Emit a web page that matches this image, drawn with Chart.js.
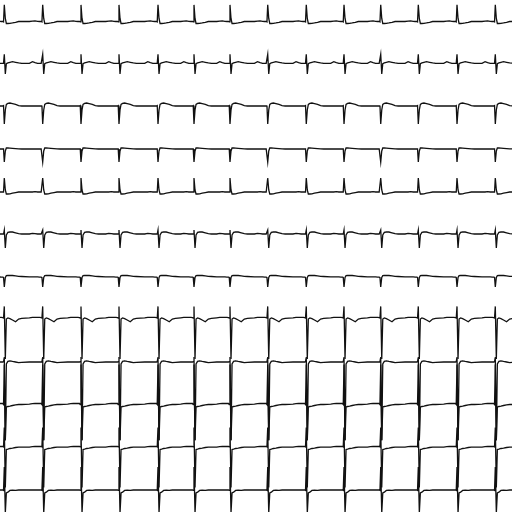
<!DOCTYPE html>
<html>
<head>
<meta charset="utf-8">
<script src="https://cdn.jsdelivr.net/npm/chart.js@4"></script>
<style>
html,body{margin:0;padding:0;background:#fff;}
#wrap{width:512px;height:512px;position:relative;}
</style>
</head>
<body>
<div id="wrap"><canvas id="c" width="512" height="512"></canvas></div>
<script>
// R-peak times (ms)
const beatTimes = [84, 834, 1582, 2324, 3086, 3789, 4492, 5229, 5982, 6719, 7436, 8170, 8926, 9674];
// sample offsets (ms) relative to each R peak
const beatOffsets = [-260, -200, -150, -100, -60, -30, -15, 0, 20, 40, 70, 110, 160, 220, 280, 340];
// lead names (top to bottom)
const leadNames = ["I", "II", "III", "aVR", "aVL", "aVF", "V1", "V2", "V3", "V4", "V5", "V6"];
// beat shapes per lead (mV)
const leadI   = [0, 0.02, 0.03, 0.01, 0, 0, -0.02, 0.83, 0.15, -0.1, -0.1, -0.09, -0.07, -0.04, 0, 0];
const leadII  = [0, 0.08, 0.03, 0, 0, 0, 0, 0.45, -0.53, -0.02, 0.02, 0.05, 0.08, 0.05, 0.02, 0];
const leadIII = [0, 0, 0, 0, 0, 0, 0.02, -0.9, -0.2, 0.08, 0.13, 0.15, 0.12, 0.08, 0.02, 0];
const leadAVR = [0, 0, 0, 0, 0, 0, 0, -0.65, -0.1, 0.05, 0.05, 0.04, 0.03, 0.02, 0.01, 0];
const leadAVL = [0, 0, 0.02, 0, 0, 0, 0, 0.7, 0.1, -0.1, -0.1, -0.09, -0.06, -0.03, 0, 0];
const leadAVF = [0, 0.03, 0.02, 0, 0, 0, 0, 0.2, -0.7, -0.05, 0.08, 0.1, 0.1, 0.06, 0.02, 0];
const leadV1  = [-0.02, -0.02, -0.02, -0.02, -0.03, -0.03, -0.05, -0.52, -0.05, 0.04, 0.05, 0.06, 0.05, 0.03, 0.01, 0];
const leadV2  = [0.06, 0.08, 0.08, 0.08, 0.08, 0.07, 0.05, 0.63, -2.0, 0, 0.05, 0.02, -0.05, -0.14, 0, 0.03];
const leadV3  = [0, 0, 0, 0, 0, 0, 0.02, 0.25, -3.9, -0.1, 0.03, 0.06, 0.03, 0, -0.03, -0.02];
const leadV4  = [0.12, 0.14, 0.15, 0.15, 0.15, 0.15, 0.1, 2.1, -1.7, -0.02, 0, 0.02, 0.05, 0.08, 0.1, 0.1];
const leadV5  = [0.02, 0.04, 0.05, 0.05, 0.05, 0.05, 0.03, 1.0, -2.0, -0.1, -0.08, -0.05, -0.03, 0, 0.02, 0.02];
const leadV6  = [0.05, 0.05, 0.05, 0.05, 0.05, 0.05, 0.03, 1.2, -1.1, -0.1, -0.06, 0.03, 0.04, 0.03, 0.05, 0.05];

const leadShapes = [leadI, leadII, leadIII, leadAVR, leadAVL, leadAVF, leadV1, leadV2, leadV3, leadV4, leadV5, leadV6];
// vertical placement of each lead's baseline (layout)
const rowBaselines = [-1.075, -3.165, -5.3, -7.45, -9.6, -11.7, -13.825, -15.95, -18.1, -20.325, -22.375, -24.55];

const datasets = leadShapes.map((shape, i) => ({
  label: leadNames[i],
  data: beatTimes.flatMap(t => beatOffsets.map((o, j) => ({x: t + o, y: rowBaselines[i] + shape[j]}))),
  borderColor: '#111',
  borderWidth: 1.3,
  pointRadius: 0,
  tension: 0,
  fill: false
}));

new Chart(document.getElementById('c'), {
  type: 'line',
  data: {datasets},
  options: {
    responsive: false,
    animation: false,
    clip: false,
    layout: {padding: 0},
    plugins: {legend: {display: false}, tooltip: {enabled: false}, title: {display: false}},
    scales: {
      x: {type: 'linear', min: 0, max: 10000, display: false},
      y: {type: 'linear', min: -25.6, max: 0, display: false}
    }
  }
});
</script>
</body>
</html>
